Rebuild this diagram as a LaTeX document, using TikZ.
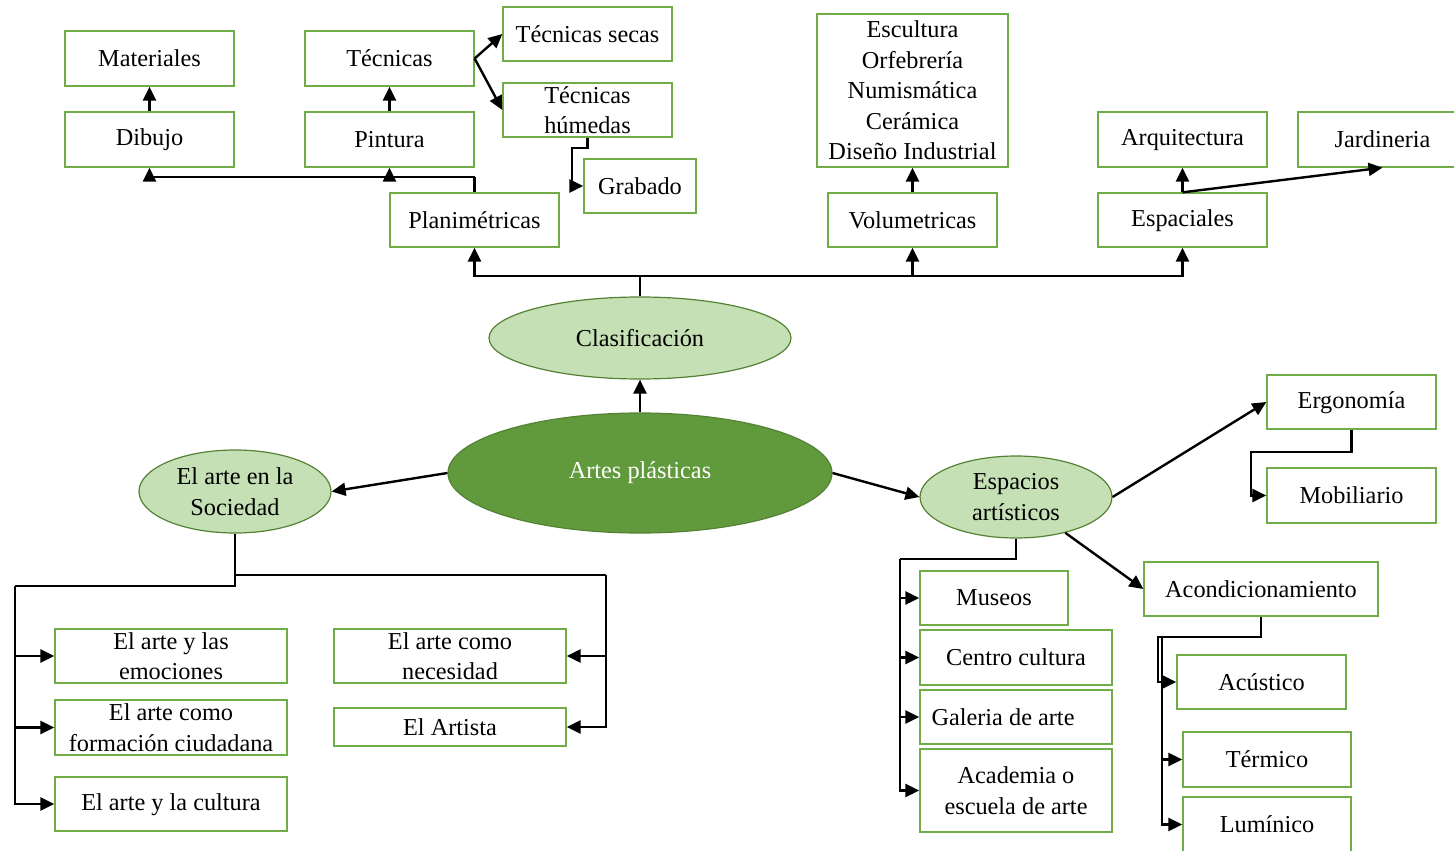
\documentclass[tikz,border=0pt]{standalone}
\usepackage{fontspec}
\setmainfont{Liberation Serif}
\usetikzlibrary{arrows.meta,shapes.geometric}
\definecolor{boxgreen}{RGB}{112,173,71}
\definecolor{lightfill}{RGB}{197,224,180}
\definecolor{darkfill}{RGB}{97,153,61}
\definecolor{ellborder}{RGB}{84,130,53}
\begin{document}
\begin{tikzpicture}[x=1pt,y=-1pt,
  bx/.style={draw=boxgreen,line width=1.3pt,fill=white,inner sep=0pt,minimum width=169pt,minimum height=54pt,align=center,font=\fontsize{24.3}{30.5}\selectfont},
  el/.style={ellipse,draw=ellborder,line width=1.2pt,fill=lightfill,inner sep=0pt,align=center,font=\fontsize{24.3}{30.5}\selectfont},
  con/.style={line width=2.4pt,black},
  arr/.style={con,-{Triangle[length=14pt,width=13pt]}}]
\useasboundingbox (0,0) rectangle (1454,851);

% top left
\node[bx,minimum height=55pt] (mat) at (149.5,58.5) {Materiales};
\node[bx,minimum height=55pt] (tec) at (389.5,58.5) {Técnicas};
\node[bx] (tsec) at (587.5,34) {Técnicas secas};
\node[bx] (thum) at (587.5,110) {Técnicas\\húmedas};
\node[bx,minimum width=112pt] (grab) at (640,186) {Grabado};
\node[bx,minimum height=55pt] (dib) at (149.5,139.5) {Dibujo};
\node[bx,minimum height=55pt] (pin) at (389.5,139.5) {Pintura};
\node[bx] (plan) at (474.5,220) {Planimétricas};
% top middle / right
\node[bx,minimum width=191pt,minimum height=153pt] (esc) at (912.5,90.5) {Escultura\\Orfebrería\\Numismática\\Cerámica\\Diseño Industrial};
\node[bx] (vol) at (912.5,220) {Volumetricas};
\node[bx,minimum height=55pt] (arq) at (1182.5,139.5) {\strut Arquitectura};
\node[bx,minimum height=55pt] (jar) at (1382.5,139.5) {Jardineria};
\node[bx] (espc) at (1182.5,220) {\strut Espaciales};

% ellipses
\node[el,minimum width=302pt,minimum height=82pt] (cla) at (640,338) {Clasificación};
\node[el,fill=darkfill,minimum width=384pt,minimum height=120pt,text=white] (ap) at (640,473) {Artes plásticas};
\node[el,minimum width=192pt,minimum height=83pt] (soc) at (235,491.5) {El arte en la\\Sociedad};
\node[el,minimum width=192pt,minimum height=82pt] (ea) at (1016,497) {Espacios\\artísticos};

% right
\node[bx] (erg) at (1351.5,402) {\strut Ergonomía};
\node[bx,minimum height=55pt] (mob) at (1351.5,495.5) {Mobiliario};
\node[bx,minimum width=234pt] (aco) at (1261,589) {Acondicionamiento};
\node[bx] (acu) at (1261.5,682) {Acústico};
\node[bx,minimum width=168pt,minimum height=55pt] (ter) at (1267,759.5) {Térmico};
\node[bx,minimum width=168pt,minimum height=55pt] (lum) at (1267,824.5) {Lumínico};
\node[bx,minimum width=148pt] (mus) at (994,598) {Museos};
\node[bx,minimum width=192pt,minimum height=55pt] (cc) at (1016,657.5) {Centro cultura};
\node[bx,minimum width=192pt] (gal) at (1016,717) {\hspace*{-26pt}Galeria de arte};
\node[bx,minimum width=192pt,minimum height=83pt] (aca) at (1016,790.5) {Academia o\\escuela de arte};

% bottom left
\node[bx,minimum width=232pt] (emo) at (171,656) {El arte y las\\emociones};
\node[bx,minimum width=232pt,minimum height=55pt] (for) at (171,727.5) {El arte como\\formación ciudadana};
\node[bx,minimum width=232pt] (cul) at (171,804) {\strut El arte y la cultura};
\node[bx,minimum width=232pt] (nec) at (450,656) {El arte como\\necesidad};
\node[bx,minimum width=232pt,minimum height=38pt] (art) at (450,727) {El Artista};

% connectors: centre
\draw[arr] (ap.north) -- (cla.south);
\coordinate (j1) at (640,276);
\draw[con] (cla.north) -- (j1);
\draw[arr] (j1) -| (plan.south);
\draw[arr] (j1) -| (vol.south);
\draw[arr] (j1) -| (espc.south);
% planimetricas
\coordinate (j2) at (474.5,177);
\draw[con] (plan.north) -- (j2);
\draw[arr] (j2) -| (dib.south);
\draw[arr] (j2) -| (pin.south);
\draw[arr] (dib.north) -- (mat.south);
\draw[arr] (pin.north) -- (tec.south);
\draw[arr] (tec.east) -- (tsec.west);
\draw[arr] (tec.east) -- (thum.west);
\draw[arr] (thum.south) -- (587.5,148) -- (572,148) -- (572,186) -- (grab.west);
% volumetricas, espaciales
\draw[arr] (vol.north) -- (esc.south);
\draw[arr] (espc.north) -- (arq.south);
\draw[arr] (espc.north) -- (jar.south);
% main branches
\draw[arr] (ap.west) -- (soc.east);
\draw[arr] (ap.east) -- (ea.west);
\draw[arr] (ea.east) -- (erg.west);
\draw[arr] (ea.-36) -- (aco.west);
\draw[arr] (erg.south) -- (1351.5,452) -- (1251,452) -- (1251,495.5) -- (mob.west);
% acondicionamiento
\draw[arr] (aco.south) -- (1261,637) -- (1158,637) -- (1158,682) -- (acu.west);
\draw[con] (1158,637) -- (1162,637);
\draw[arr] (1162,637) |- (ter.west);
\draw[arr] (1162,759.5) |- (lum.west);
% espacios artisticos
\coordinate (j3) at (900,559);
\draw[con] (ea.south) -- (1016,559) -- (j3);
\draw[arr] (j3) |- (mus.west);
\draw[arr] (j3) |- (cc.west);
\draw[arr] (j3) |- (gal.west);
\draw[arr] (j3) |- (aca.west);
% sociedad
\draw[con] (soc.south) -- (235,586) -- (15,586);
\draw[arr] (15,586) |- (emo.west);
\draw[arr] (15,586) |- (for.west);
\draw[arr] (15,586) |- (cul.west);
\draw[con] (235,575) -- (606,575);
\draw[arr] (606,575) |- (nec.east);
\draw[arr] (606,575) |- (art.east);
\end{tikzpicture}
\end{document}
